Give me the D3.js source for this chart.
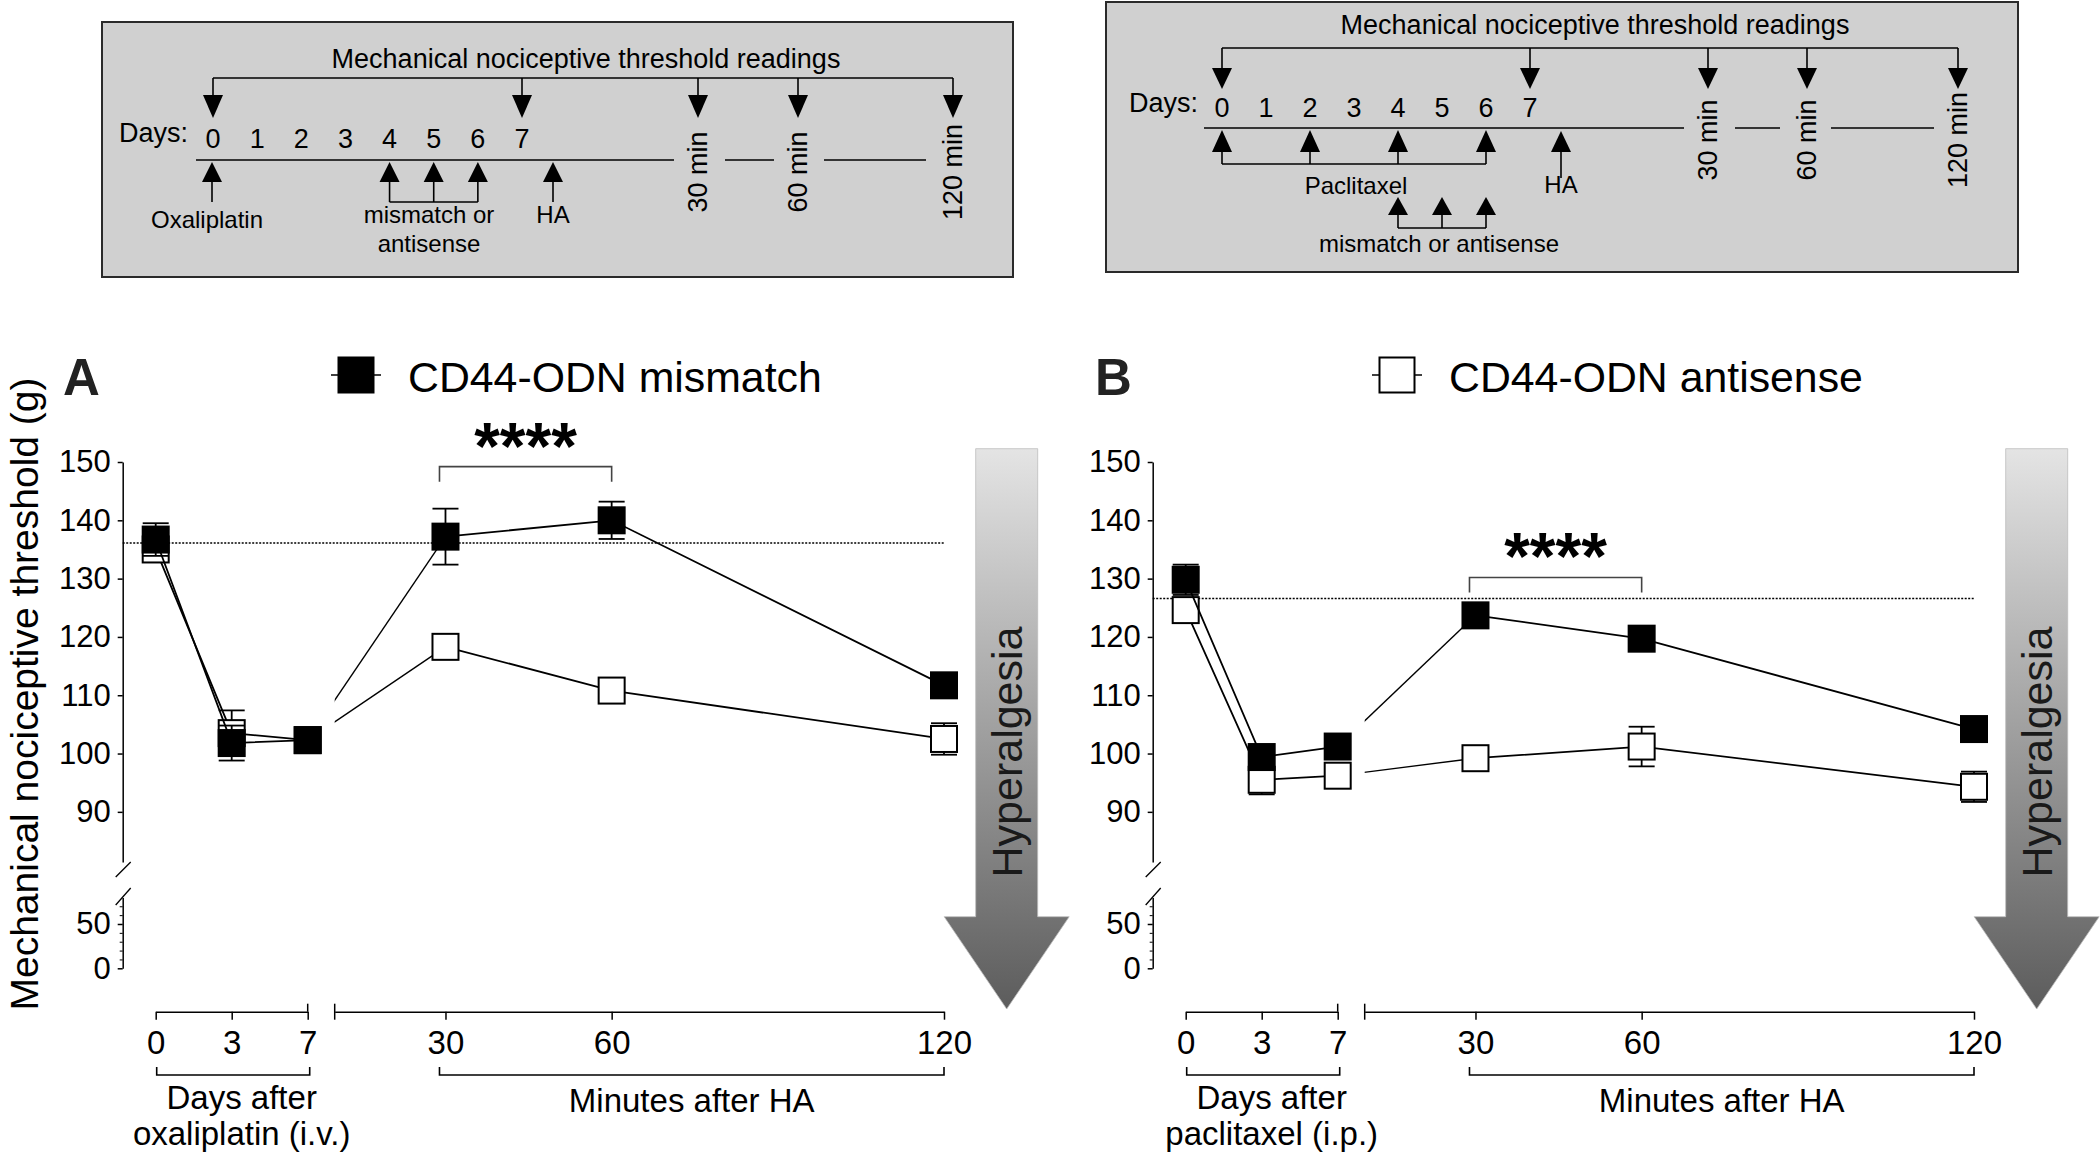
<!DOCTYPE html>
<html><head><meta charset="utf-8">
<script src="https://cdn.jsdelivr.net/npm/d3@7"></script>
<style>body{margin:0;background:#fff} svg{display:block} text{font-family:"Liberation Sans",Arial,sans-serif}</style>
</head><body><svg id="c" width="2100" height="1155"></svg>
<script>
// ---------------- data ----------------
const timeLabels = ["0","3","7","30","60","120"];
const dayValues = [0,3,7];
const minuteValues = [30,60,120];
const oxaMismatch      = [136.7,101.8,102.3,137.2,140.0,111.7];
const oxaMismatchSem   = [2.8,3.0,1.2,4.8,3.2,1.0];
const oxaAntisense     = [135.0,103.5,102.3,118.3,110.8,102.5];
const oxaAntisenseSem  = [2.0,3.9,1.0,1.5,1.5,2.7];
const pacMismatch      = [129.8,99.4,101.2,123.7,119.7,104.2];
const pacMismatchSem   = [2.6,1.5,2.0,1.5,1.2,1.2];
const pacAntisense     = [124.6,95.5,96.2,99.2,101.2,94.3];
const pacAntisenseSem  = [2.0,2.5,1.5,1.5,3.4,2.6];
const baselineValues   = [136.1,126.6];
const sigBracketValues = [149.2,130.2];
const yMajorTicks = [90,100,110,120,130,140,150];
const yLowTicks = [0,50];
const yLowMinor = [10,20,30,40,60,70];
const panelLetters = ["A","B"];
const legendLabels = ["CD44-ODN mismatch","CD44-ODN antisense"];
const daysTitles = [["Days after","oxaliplatin (i.v.)"],["Days after","paclitaxel (i.p.)"]];
const minutesTitle = "Minutes after HA";
const yTitle = "Mechanical nociceptive threshold (g)";
// schematic
const schemeDays = [0,1,2,3,4,5,6,7];
const schemeMinutes = ["30 min","60 min","120 min"];

const svg = d3.select("#c");
const FONT = '"Liberation Sans",Arial,sans-serif';

// ---------------- schematic boxes ----------------
function downArrow(g, x, yLine, headTop, tip){
  g.append("line").attr("x1",x).attr("x2",x).attr("y1",yLine).attr("y2",headTop+1).attr("stroke","#000").attr("stroke-width",1.6);
  g.append("path").attr("d",`M${x-10},${headTop}L${x+10},${headTop}L${x},${tip}Z`).attr("fill","#000");
}
function upArrow(g, x, tip, headBase, yEnd){
  g.append("line").attr("x1",x).attr("x2",x).attr("y1",headBase-1).attr("y2",yEnd).attr("stroke","#000").attr("stroke-width",1.6);
  g.append("path").attr("d",`M${x-10},${headBase}L${x+10},${headBase}L${x},${tip}Z`).attr("fill","#000");
}
function hline(g,x1,x2,y,w){g.append("line").attr("x1",x1).attr("x2",x2).attr("y1",y).attr("y2",y).attr("stroke","#000").attr("stroke-width",w||1.6);}
function txt(g,s,x,y,size,anchor){return g.append("text").attr("x",x).attr("y",y).attr("font-size",size).attr("text-anchor",anchor||"middle").attr("fill","#000").text(s);}

const schemes = [
  {box:[102,22,1013,277], title:[586,68], brY:78, headTop:95, tip:118, daysLbl:[119,142], numY:148, dayRange:[213,522],
   lineY:160, line:[196,674], dashes:[[725,774],[824,926]], minX:[698,798,953], minY:172},
  {box:[1106,2,2018,272], title:[1595,34], brY:48, headTop:68, tip:89, daysLbl:[1129,112], numY:117, dayRange:[1222,1530],
   lineY:128, line:[1204,1684], dashes:[[1735,1780],[1831,1934]], minX:[1708,1807,1958], minY:140}
];
schemes.forEach((s,k)=>{
  const g = svg.append("g");
  g.append("rect").attr("x",s.box[0]).attr("y",s.box[1]).attr("width",s.box[2]-s.box[0]).attr("height",s.box[3]-s.box[1])
    .attr("fill","#d0d0d0").attr("stroke","#2a2a2a").attr("stroke-width",2);
  txt(g,"Mechanical nociceptive threshold readings",s.title[0],s.title[1],27);
  const xd = d3.scalePoint().domain(schemeDays).range(s.dayRange);
  const readX = [xd(0), xd(7)].concat(s.minX);
  hline(g, readX[0], readX[4], s.brY);
  readX.forEach(x=>downArrow(g,x,s.brY,s.headTop,s.tip));
  txt(g,"Days:",s.daysLbl[0],s.daysLbl[1],27,"start");
  schemeDays.forEach(d=>txt(g,String(d),xd(d),s.numY,27));
  hline(g,s.line[0],s.line[1],s.lineY);
  s.dashes.forEach(d=>hline(g,d[0],d[1],s.lineY));
  schemeMinutes.forEach((m,i)=>{
    g.append("text").attr("transform",`translate(${s.minX[i]},${s.minY}) rotate(-90)`).attr("text-anchor","middle")
      .attr("dy","0.35em").attr("font-size",27).text(m);
  });
  if(k===0){
    upArrow(g,xd(0)-1,162,182,202);
    txt(g,"Oxaliplatin",207,228,24);
    [4,5,6].forEach(d=>upArrow(g,xd(d),162,182,202));
    hline(g,xd(4),xd(6),202);
    txt(g,"mismatch or",429,223,24); txt(g,"antisense",429,252,24);
    upArrow(g,553,162,182,202);
    txt(g,"HA",553,223,24);
  } else {
    [0,2,4,6].forEach(d=>upArrow(g,xd(d),130,152,164));
    hline(g,xd(0),xd(6),164);
    txt(g,"Paclitaxel",1356,194,24);
    upArrow(g,1561,131,152,178);
    txt(g,"HA",1561,193,24);
    [4,5,6].forEach(d=>upArrow(g,xd(d),197,215,228));
    hline(g,xd(4),xd(6),228);
    txt(g,"mismatch or antisense",1439,252,24);
  }
});

// ---------------- plots ----------------
const defs = svg.append("defs");
const grad = defs.append("linearGradient").attr("id","hg").attr("x1",0).attr("y1",0).attr("x2",0).attr("y2",1);
grad.append("stop").attr("offset","0%").attr("stop-color","#e4e4e4");
grad.append("stop").attr("offset","100%").attr("stop-color","#5c5c5c");

const panels = [
  {dx:0, mm:oxaMismatch, ms:oxaMismatchSem, am:oxaAntisense, as:oxaAntisenseSem, legendX:356, legendFill:"#000"},
  {dx:1030, mm:pacMismatch, ms:pacMismatchSem, am:pacAntisense, as:pacAntisenseSem, legendX:1397, legendFill:"#fff"}
];
const yUp = d3.scaleLinear().domain([81.4,150]).range([862,462]);
const yLow = d3.scaleLinear().domain([0,80]).range([968.3,897.4]);
const axisY = 1011.7;
const MS = 26;

panels.forEach((p,k)=>{
  const g = svg.append("g");
  const dx = p.dx;
  const xDay = d3.scalePoint().domain(dayValues).range([155.7+dx,307.7+dx]);
  const xMin = d3.scaleLinear().domain([10,120]).range([334.7+dx,944+dx]);
  const xAt = i => i<3 ? xDay(dayValues[i]) : xMin(minuteValues[i-3]);
  const ax = 122.7+dx;

  // hyperalgesia arrow
  const cx = 1006.7+dx;
  const arrowTop = 448.7, headTop = 916.7, tip = 1009;
  g.append("path").attr("d",`M${cx-31},${arrowTop}L${cx+31},${arrowTop}L${cx+31},${headTop}L${cx+62.5},${headTop}L${cx},${tip}L${cx-62.5},${headTop}L${cx-31},${headTop}Z`)
    .attr("fill","url(#hg)").attr("stroke","#bbb").attr("stroke-width",0.8);
  g.append("text").attr("transform",`translate(${cx},752) rotate(-90)`).attr("text-anchor","middle").attr("dy","0.36em")
    .attr("font-size",43).attr("fill","#1a1a1a").text("Hyperalgesia");

  // panel letter
  g.append("text").attr("x",63+dx+(k?2:0)).attr("y",395).attr("font-size",51).attr("font-weight","bold").attr("fill","#222").text(panelLetters[k]);

  // legend
  g.append("line").attr("x1",p.legendX-25).attr("x2",p.legendX+25).attr("y1",375).attr("y2",375).attr("stroke","#000").attr("stroke-width",1.6);
  g.append("rect").attr("x",p.legendX-17.5).attr("y",357.5).attr("width",35).attr("height",35).attr("fill",p.legendFill).attr("stroke","#000").attr("stroke-width",2);
  g.append("text").attr("x",p.legendX+52).attr("y",391.7).attr("font-size",42.8).text(legendLabels[k]);

  // y axes
  const yA = g.append("g").attr("transform",`translate(${ax},0)`).call(d3.axisLeft(yUp).tickValues(yMajorTicks).tickSize(5).tickSizeOuter(0).tickPadding(7));
  const yB = g.append("g").attr("transform",`translate(${ax},0)`).call(d3.axisLeft(yLow).tickValues(yLowTicks).tickSize(5).tickSizeOuter(0).tickPadding(7));
  g.append("g").attr("transform",`translate(${ax},0)`).call(d3.axisLeft(yLow).tickValues(yLowMinor).tickSize(3).tickSizeOuter(0).tickFormat(""))
    .call(a=>a.select(".domain").remove());
  [yA,yB].forEach(a=>{a.selectAll("text").attr("font-size",31).attr("font-family",FONT).attr("fill","#000");
    a.selectAll("path,line").attr("stroke","#000").attr("stroke-width",1.5);});
  [[877,862],[905,888]].forEach(s=>g.append("line").attr("x1",ax-7).attr("x2",ax+8).attr("y1",s[0]).attr("y2",s[1]).attr("stroke","#000").attr("stroke-width",1.3));
  if(k===0){
    g.append("text").attr("transform","translate(24,694) rotate(-90)").attr("text-anchor","middle").attr("dy","0.35em")
      .attr("font-size",39).text(yTitle);
  }

  // x axes
  const xa1 = g.append("g").attr("transform",`translate(0,${axisY})`).call(d3.axisBottom(xDay).tickSize(8).tickSizeOuter(0).tickPadding(11).tickFormat((d,i)=>timeLabels[i]));
  const xa2 = g.append("g").attr("transform",`translate(0,${axisY})`).call(d3.axisBottom(xMin).tickValues(minuteValues).tickSize(8).tickSizeOuter(0).tickPadding(11).tickFormat((d,i)=>timeLabels[i+3]));
  [xa1,xa2].forEach(a=>{a.selectAll("text").attr("font-size",33).attr("font-family",FONT).attr("fill","#000");
    a.selectAll("path,line").attr("stroke","#000").attr("stroke-width",1.5);});
  g.append("line").attr("x1",xDay(7)).attr("x2",xDay(7)).attr("y1",axisY-8).attr("y2",axisY).attr("stroke","#000").attr("stroke-width",1.5);
  g.append("line").attr("x1",xMin(10)).attr("x2",xMin(10)).attr("y1",axisY-8).attr("y2",axisY+8).attr("stroke","#000").attr("stroke-width",1.5);

  // brackets below axis
  const brk = (x1,x2)=>g.append("path").attr("d",`M${x1},1067V1075H${x2}V1067`).attr("fill","none").attr("stroke","#000").attr("stroke-width",1.6);
  brk(xDay(0)+1,xDay(7)+2);
  brk(xMin(30)-6,xMin(120));
  const dcx = (xDay(0)+xDay(7))/2 + 10;
  g.append("text").attr("x",dcx).attr("y",1109).attr("font-size",33).attr("text-anchor","middle").text(daysTitles[k][0]);
  g.append("text").attr("x",dcx).attr("y",1145).attr("font-size",33).attr("text-anchor","middle").text(daysTitles[k][1]);
  g.append("text").attr("x",(xMin(30)-6+xMin(120))/2).attr("y",1112).attr("font-size",33).attr("text-anchor","middle").text(minutesTitle);

  // baseline dotted
  g.append("line").attr("x1",ax).attr("x2",xMin(120)).attr("y1",yUp(baselineValues[k])).attr("y2",yUp(baselineValues[k]))
    .attr("stroke","#000").attr("stroke-width",1.5).attr("stroke-dasharray","2,1.5");

  // significance bracket
  const sy = yUp(sigBracketValues[k]);
  g.append("path").attr("d",`M${xMin(30)-6},${sy+15}V${sy}H${xMin(60)}V${sy+15}`).attr("fill","none").attr("stroke","#444").attr("stroke-width",1.6);
  g.append("text").attr("x",(xMin(30)-6+xMin(60))/2).attr("y",sy+2).attr("font-size",66).attr("font-weight","bold").attr("text-anchor","middle").text("****");

  // clip for the segment bridging the axis break
  const cid = "clip"+k;
  defs.append("clipPath").attr("id",cid).append("rect").attr("x",xMin(10)).attr("y",400).attr("width",700).attr("height",600);

  const series = [
    {m:p.am, s:p.as, fill:"#fff"},
    {m:p.mm, s:p.ms, fill:"#000"}
  ];
  const line = d3.line().x(d=>d.x).y(d=>d.y);
  series.forEach(sr=>{
    const pts = sr.m.map((v,i)=>({x:xAt(i), y:yUp(v), v, e:sr.s[i]}));
    g.append("path").attr("d",line(pts.slice(0,3))).attr("fill","none").attr("stroke","#000").attr("stroke-width",1.8);
    g.append("path").attr("d",line(pts.slice(2,4))).attr("fill","none").attr("stroke","#000").attr("stroke-width",1.4).attr("clip-path",`url(#${cid})`);
    g.append("path").attr("d",line(pts.slice(3))).attr("fill","none").attr("stroke","#000").attr("stroke-width",1.8);
    const eg = g.append("g");
    pts.forEach(d=>{
      const y1 = yUp(d.v+d.e), y2 = yUp(d.v-d.e);
      eg.append("line").attr("x1",d.x).attr("x2",d.x).attr("y1",y1).attr("y2",y2).attr("stroke","#000").attr("stroke-width",1.8);
      [y1,y2].forEach(yy=>eg.append("line").attr("x1",d.x-13).attr("x2",d.x+13).attr("y1",yy).attr("y2",yy).attr("stroke","#000").attr("stroke-width",1.8));
    });
    g.selectAll(null).data(pts).enter().append("rect")
      .attr("x",d=>d.x-MS/2).attr("y",d=>d.y-MS/2).attr("width",MS).attr("height",MS)
      .attr("fill",sr.fill).attr("stroke","#000").attr("stroke-width",2);
  });
});
</script></body></html>
